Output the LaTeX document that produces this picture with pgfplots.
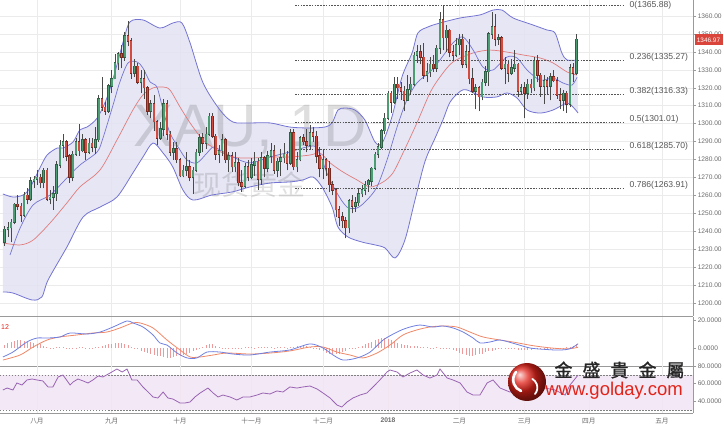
\documentclass[border=0pt]{standalone}
\usepackage{fontspec}
\setmainfont{Liberation Sans}
\newfontfamily\cjk{Noto Sans CJK SC}
\newfontfamily\cjktc[FakeBold=1.2]{Noto Sans CJK TC}
\usepackage{pgfplots}
\usepackage{pgfplotstable}
\pgfplotsset{compat=1.18}
\usepgfplotslibrary{fillbetween}
\definecolor{gridc}{HTML}{EBEBEB}
\definecolor{axc}{HTML}{9A9A9A}
\definecolor{tickc}{HTML}{6A6A6A}
\definecolor{bandfill}{HTML}{E2E2F3}
\definecolor{bandline}{HTML}{7474D2}
\definecolor{maline}{HTML}{E07C7C}
\definecolor{upc}{HTML}{4C9E72}
\definecolor{upb}{HTML}{2F5F45}
\definecolor{dnc}{HTML}{D24B3E}
\definecolor{dnb}{HTML}{7A2A20}
\definecolor{wickc}{HTML}{4A4A4A}
\definecolor{macdb}{HTML}{7080E0}
\definecolor{macdr}{HTML}{F08868}
\definecolor{histc}{HTML}{EE9A9A}
\definecolor{rsic}{HTML}{9A64B4}
\definecolor{rsifill}{HTML}{F1E4F3}
\definecolor{fibc}{HTML}{555555}
\definecolor{logored}{HTML}{E2231A}
\definecolor{pricebox}{HTML}{D9453B}

% candles: up (close > open)
\pgfplotstableread{
i o h l c
-10 1234 1243 1232 1241
-9 1241 1245 1237 1242
-8 1242 1247 1234 1245
-7 1245 1256 1244 1255
-4 1249 1262 1248 1260
-2 1258 1270 1257 1268
-1 1268 1271 1264 1269
0 1269 1274 1266 1270
2 1267 1275 1264 1274
4 1258 1263 1255 1259
5 1259 1265 1252 1261
6 1261 1279 1257 1277
7 1277 1291 1275 1288
8 1288 1294 1281 1290
11 1270 1285 1268 1283
12 1283 1292 1282 1290
14 1285 1294 1284 1291
16 1284 1292 1283 1289
18 1287 1298 1283 1291
19 1291 1316 1290 1314
22 1307 1322 1306 1321
23 1321 1330 1317 1325
24 1325 1339 1325 1334
25 1334 1340 1330 1339
27 1337 1351 1335 1349
30 1328 1336 1326 1332
32 1323 1330 1317 1325
35 1307 1313 1303 1311
38 1292 1301 1291 1297
39 1297 1314 1293 1311
42 1284 1290 1280 1286
45 1271 1277 1270 1274
46 1274 1284 1271 1276
48 1270 1276 1261 1274
49 1274 1286 1273 1284
50 1284 1294 1282 1292
52 1289 1298 1286 1294
53 1294 1306 1293 1304
56 1283 1288 1278 1285
57 1285 1294 1282 1291
59 1280 1284 1273 1282
61 1276 1284 1273 1278
64 1265 1278 1264 1276
66 1270 1281 1269 1277
67 1277 1284 1271 1279
69 1269 1284 1266 1281
71 1275 1285 1273 1282
72 1282 1289 1278 1285
74 1274 1281 1270 1279
75 1279 1286 1271 1281
76 1281 1289 1278 1283
78 1278 1297 1277 1295
80 1276 1284 1273 1280
81 1280 1293 1279 1292
84 1288 1299 1286 1295
88 1275 1286 1269 1280
96 1242 1258 1239 1257
98 1254 1259 1251 1256
99 1256 1264 1254 1261
100 1261 1266 1259 1263
101 1263 1268 1260 1266
102 1266 1269 1262 1268
103 1268 1276 1265 1275
104 1275 1284 1274 1283
105 1283 1289 1281 1287
106 1287 1297 1286 1296
107 1296 1306 1294 1303
108 1303 1318 1302 1317
110 1312 1326 1311 1322
114 1313 1327 1313 1319
115 1319 1326 1316 1322
116 1322 1340 1321 1338
117 1338 1344 1334 1340
120 1327 1334 1323 1329
121 1329 1337 1326 1333
123 1331 1344 1329 1342
124 1342 1362 1339 1358
126 1348 1355 1340 1352
129 1338 1348 1337 1344
130 1344 1350 1338 1347
132 1333 1344 1331 1340
135 1318 1322 1308 1320
137 1315 1325 1313 1323
138 1323 1332 1321 1329
139 1329 1351 1321 1350
140 1350 1362 1347 1354
142 1347 1350 1344 1348
144 1331 1337 1322 1333
146 1328 1336 1327 1331
147 1331 1341 1329 1333
149 1318 1322 1316 1320
151 1317 1325 1314 1322
153 1320 1337 1318 1335
156 1321 1327 1311 1324
158 1321 1328 1313 1326
162 1313 1319 1307 1317
164 1311 1333 1309 1331
166 1328 1350 1327 1347
}\upcandles

% candles: down (close < open)
\pgfplotstableread{
i o h l c
-6 1255 1260 1252 1254
-5 1254 1256 1245 1249
-3 1260 1264 1255 1258
1 1270 1272 1264 1267
3 1274 1275 1257 1258
9 1290 1291 1279 1282
10 1282 1283 1267 1270
13 1290 1300 1282 1285
15 1291 1292 1280 1284
17 1289 1292 1284 1287
20 1314 1326 1307 1309
21 1309 1312 1305 1307
26 1339 1344 1331 1337
28 1349 1357 1343 1346
29 1346 1348 1325 1328
31 1332 1334 1322 1323
33 1325 1330 1314 1320
34 1320 1321 1305 1307
36 1311 1316 1296 1301
37 1301 1302 1288 1292
40 1311 1313 1291 1294
41 1294 1296 1282 1284
43 1286 1290 1278 1280
44 1280 1281 1270 1271
47 1276 1280 1268 1270
51 1292 1295 1284 1289
54 1304 1306 1292 1293
55 1293 1294 1280 1283
58 1291 1292 1278 1280
60 1282 1284 1273 1276
62 1278 1281 1265 1267
63 1267 1274 1262 1265
65 1276 1280 1268 1270
68 1279 1281 1263 1269
70 1281 1282 1270 1275
73 1285 1288 1272 1274
77 1283 1285 1274 1278
79 1295 1297 1274 1276
82 1292 1294 1288 1290
83 1290 1297 1284 1288
85 1295 1298 1290 1293
86 1293 1296 1278 1282
87 1282 1287 1270 1275
89 1280 1281 1271 1275
90 1275 1279 1262 1266
91 1266 1268 1260 1263
92 1263 1264 1248 1252
93 1252 1254 1243 1248
94 1248 1251 1242 1246
95 1246 1248 1236 1242
97 1257 1260 1250 1254
109 1317 1318 1306 1312
111 1322 1326 1314 1320
112 1320 1323 1313 1318
113 1318 1321 1307 1313
118 1340 1344 1333 1337
119 1337 1345 1325 1327
122 1333 1338 1329 1331
125 1358 1366 1341 1348
127 1352 1353 1337 1340
128 1340 1344 1335 1338
131 1347 1350 1331 1333
133 1340 1347 1322 1325
134 1325 1331 1317 1318
136 1320 1321 1307 1315
141 1354 1361 1343 1347
143 1348 1349 1330 1331
145 1333 1335 1323 1328
148 1333 1334 1315 1318
150 1320 1323 1303 1317
152 1322 1325 1317 1320
154 1335 1338 1323 1327
155 1327 1328 1315 1321
157 1324 1326 1316 1321
159 1326 1330 1323 1324
160 1324 1326 1314 1316
161 1316 1320 1308 1313
163 1317 1318 1306 1311
165 1331 1334 1323 1328
}\dncandles

\pgfplotstableread{
x y
-10.5 1260.8
-7.4 1259.1
-4.3 1260.2
-2.2 1264.1
0.9 1275.3
3.1 1282.5
6.2 1286.4
8.0 1286.4
11.1 1289.8
13.2 1296.5
15.4 1298.1
18.5 1303.1
21.5 1314.3
24.0 1328.8
26.5 1345.5
28.6 1356.7
32.6 1357.8
37.8 1353.3
41.8 1356.1
44.6 1356.1
47.1 1345.0
51.1 1322.7
56.3 1307.6
60.3 1300.9
65.5 1300.4
71.7 1300.4
77.8 1298.1
83.4 1297.6
88.6 1298.1
90.8 1300.4
92.6 1307.6
94.8 1308.7
97.8 1307.6
100.9 1302.0
104.0 1289.8
106.2 1289.2
109.2 1303.7
112.3 1326.0
115.4 1339.4
117.2 1350.5
120.3 1353.9
124.0 1356.1
130.2 1358.9
136.3 1360.6
140.3 1363.3
143.1 1363.3
146.5 1358.9
152.6 1355.0
156.9 1352.2
159.4 1350.5
161.5 1339.4
163.1 1335.5
166.2 1335.5
}\upperband

\pgfplotstableread{
x y
-10.5 1206.2
-7.4 1205.6
-1.5 1201.7
1.5 1203.4
3.4 1212.8
9.2 1231.2
14.2 1248.0
19.4 1253.5
24.6 1259.1
29.5 1272.5
32.6 1281.4
35.7 1289.2
38.8 1283.6
41.8 1275.8
44.9 1263.0
48.0 1257.4
53.8 1260.2
60.0 1261.9
65.5 1264.7
71.7 1266.9
77.8 1267.5
81.8 1268.6
84.9 1270.3
87.7 1264.7
90.8 1253.5
92.6 1242.4
95.7 1236.8
100.0 1234.0
104.0 1232.4
107.1 1230.7
110.2 1225.1
113.2 1235.1
116.3 1257.4
119.4 1279.0
122.5 1292.0
124.9 1302.0
127.1 1312.0
130.2 1318.0
132.3 1318.8
137.2 1314.9
141.5 1314.9
144.6 1317.1
147.7 1314.3
150.8 1307.6
154.8 1305.9
158.8 1307.6
163.1 1311.5
164.9 1309.3
166.5 1305.9
}\lowerband

\pgfplotstableread{
x y
-8.3 1226.8
-5.2 1241.8
-1.2 1254.7
4.0 1260.2
9.2 1269.7
13.2 1276.9
18.5 1284.2
20.3 1292.0
23.4 1310.4
25.5 1323.2
28.0 1333.8
30.8 1334.4
32.6 1331.0
34.8 1323.2
36.9 1320.4
38.8 1307.6
40.9 1294.8
44.0 1285.3
46.2 1279.7
49.2 1278.1
52.3 1283.6
54.2 1287.0
56.3 1285.3
60.3 1281.4
65.5 1278.1
71.7 1281.4
77.8 1284.2
83.1 1287.0
86.2 1286.4
89.2 1272.5
92.3 1261.3
95.4 1253.5
98.5 1253.0
101.5 1257.4
104.6 1264.7
107.7 1279.7
110.8 1298.1
113.8 1313.2
116.9 1322.7
120.9 1328.8
124.0 1335.5
128.0 1345.0
131.1 1348.3
134.2 1341.0
137.2 1331.6
140.3 1329.9
144.6 1337.1
147.7 1336.6
150.8 1329.9
154.8 1324.3
158.8 1325.4
161.8 1322.7
164.6 1321.5
166.2 1326.0
}\fastma

\pgfplotstableread{
x y
-10.5 1233.5
-5.2 1232.4
-1.2 1235.1
4.0 1244.6
9.2 1255.8
13.2 1264.7
19.4 1274.2
24.6 1290.9
29.5 1307.6
32.6 1316.0
35.7 1319.9
38.8 1320.4
40.9 1318.8
44.0 1309.3
47.1 1300.4
51.1 1290.9
55.4 1285.3
60.3 1281.4
65.5 1280.8
71.7 1281.4
77.8 1281.4
84.0 1282.5
87.1 1283.6
90.2 1278.1
94.2 1273.0
98.5 1268.6
102.5 1264.7
106.5 1267.5
109.5 1272.5
112.6 1283.6
116.9 1300.4
120.9 1317.1
124.0 1326.0
128.0 1334.4
134.2 1339.4
139.4 1341.0
144.6 1339.9
149.5 1338.3
154.8 1336.6
158.8 1333.8
163.1 1328.8
166.2 1327.1
}\midband

\pgfplotstableread{
x y
-10.5 -6.4
-7.4 -2.9
-3.1 4.3
0 7.1
3.1 7.1
7.1 7.9
10.2 10.7
15.4 10.0
19.4 11.4
23.4 15.0
27.7 19.3
29.5 17.9
32.6 15.0
35.7 9.3
37.8 3.6
40.0 2.1
43.1 -3.6
46.2 -7.1
49.2 -7.1
52.3 -2.9
56.3 -2.9
60.3 -4.3
65.5 -5.0
71.7 -2.9
77.8 -1.4
84.0 2.9
88.0 0
91.1 -5.0
94.2 -8.6
98.5 -7.1
102.5 -2.9
106.5 5.7
110.8 11.4
113.8 14.3
117.8 16.4
121.8 15.0
124.9 15.7
128.0 14.3
131.1 11.4
134.2 7.1
136.3 3.6
139.4 4.3
142.5 5.7
147.1 3.0
151.7 0
156.3 -1.0
160.9 -1.5
164.0 -0.5
166.5 3.0
}\macdline

\pgfplotstableread{
x y
-10.5 -8.6
-5.2 -5.0
-1.2 0.7
3.1 5.7
7.1 7.9
12.3 9.3
17.2 10.7
21.5 11.4
25.5 14.3
29.5 17.9
31.7 17.9
35.7 14.3
40.0 5.7
44.0 -1.4
47.1 -6.4
50.2 -6.4
54.2 -5.0
58.5 -3.6
65.5 -4.3
71.7 -3.6
77.8 -2.1
84.0 0.7
88.0 0.7
92.3 -2.9
96.3 -5.0
100.3 -7.1
104.6 -3.6
108.6 2.1
112.6 9.3
116.9 12.9
120.9 15.0
124.9 15.7
129.2 15.0
133.2 11.4
137.2 7.9
142.5 5.7
147.1 4.0
151.7 2.0
156.3 0.5
160.9 -0.5
164.0 -0.5
166.5 0.5
}\signalline

\pgfplotstableread{
x y
-10 2
-9 3.5
-8 4.5
-7 5
-6 5.5
-5 5.5
-4 5
-3 4.5
-2 4
-1 3.5
0 3
1 2.5
2 1.5
3 0.5
4 0.3
5 -0.3
6 0.5
7 0.8
8 0.5
9 0.3
10 -0.3
11 -0.5
12 0.3
13 0.5
14 0.5
15 0.3
16 0.3
17 0.3
18 0.5
19 0.8
20 1.5
21 2
22 2.5
23 3
24 3.5
25 3.5
26 3.5
27 3
28 2
29 1
30 0.2
31 -1
32 -2
33 -3
34 -3.5
35 -4
36 -5
37 -5.5
38 -6
39 -6.5
40 -7
41 -7
42 -6.5
43 -6
44 -5.5
45 -5
46 -4.5
47 -3.5
48 -2.5
49 -1.5
50 -0.5
51 1
52 2
53 3
54 2.5
55 1.5
56 0.5
57 0.3
58 -0.3
59 -0.5
60 -0.5
61 -0.5
62 -0.3
63 0.3
64 0.5
65 0.8
66 0.5
67 0.3
68 0.5
69 0.8
70 1
71 0.8
72 0.5
73 0.3
74 0.5
75 0.8
76 0.5
77 0.3
78 0.8
79 1
80 1.2
81 1.5
82 1.5
83 1.2
84 0.8
85 0.3
86 -0.5
87 -1.5
88 -2.5
89 -3.5
90 -4
91 -4.5
92 -4.5
93 -4
94 -3
95 -2
96 -1
97 -0.3
98 0.3
99 1
100 1.5
101 2.5
102 3.5
103 4.5
104 5.5
105 6.5
106 7
107 7
108 6.5
109 5.5
110 4.5
111 3.5
112 2.5
113 2
114 2
115 1.5
116 1.5
117 1.2
118 1
119 0.8
120 0.5
121 0.3
122 0.3
123 0.5
124 0.3
125 0.1
126 -0.3
127 -0.5
128 -1.5
129 -2.5
130 -3.5
131 -4.5
132 -5
133 -5.5
134 -5.5
135 -5
136 -4.5
137 -4
138 -3
139 -2.5
140 -2
141 -1.5
142 -1
143 -0.5
144 -0.3
145 -0.3
146 -0.5
147 -1
148 -1.2
149 -1.5
150 -1.5
151 -1.5
152 -1.2
153 -1
154 -0.8
155 -0.5
156 -0.5
157 -0.3
158 -0.3
159 -0.2
160 0.1
161 0.2
162 0.3
163 0.5
164 1
165 1.5
166 2.5
}\histo

\pgfplotstableread{
x y
-10.5 52.9
-9.2 55.1
-7.4 52.9
-6.2 60.8
-4.6 58.5
-3.1 64.2
-1.5 65.3
0 64.2
1.8 63.1
3.4 56.3
4.9 56.3
6.5 67.6
8.0 69.8
10.2 58.5
11.1 61.9
12.6 65.3
14.2 63.1
15.7 60.8
17.2 64.2
18.8 68.7
20.3 67.6
22.5 72.1
24.6 76.6
26.2 73.2
27.7 76.6
29.2 64.2
30.8 64.2
32.6 56.3
34.2 50.6
35.7 45.0
37.2 43.8
38.8 50.6
40.3 43.8
41.8 42.7
44.0 38.2
45.5 38.2
47.1 39.3
48.6 45.0
50.2 49.5
52.6 55.1
54.2 49.5
55.7 45.0
57.2 47.2
59.4 45.0
61.5 41.6
63.4 45.0
65.5 45.0
67.7 47.2
69.5 49.5
71.7 48.4
73.8 51.8
75.7 50.6
77.8 56.3
80.0 55.1
81.8 56.3
84.0 57.4
86.2 54.0
88.0 49.5
90.2 43.8
92.3 35.9
93.8 33.7
95.4 39.3
97.2 43.8
99.4 47.2
101.5 49.5
103.4 56.3
105.5 64.2
107.7 73.2
108.6 75.5
110.8 73.2
112.6 67.6
114.8 72.1
116.9 75.5
118.8 69.8
120.9 66.4
123.1 69.8
124.0 76.6
126.2 66.4
128.0 64.2
130.2 60.8
132.3 50.6
134.2 47.2
136.3 47.2
138.5 60.8
140.3 64.2
142.5 55.1
145.5 50.6
148.6 55.1
150.8 47.2
153.2 58.5
156.3 55.1
159.4 52.9
162.5 47.2
164.0 58.5
166.5 69.8
}\rsiline

\pgfplotsset{
  chartbase/.style={
    scale only axis, width=693pt, anchor=north west,
    xmin=-11.385, xmax=201.85,
    axis x line*=bottom, axis y line*=right,
    axis line style={draw=axc, line width=0.8pt},
    xtick={0,23,44,66,88,108,130,150,169.8,192.3},
    xmajorgrids, grid style={draw=gridc, line width=0.5pt},
    xtick style={draw=none},
    ytick style={draw=axc, line width=0.5pt},
    tick align=outside, major tick length=3pt,
    yticklabel style={font=\fontsize{6.6}{7}\selectfont, text=tickc, inner sep=1.6pt},
    /pgf/number format/assume math mode=true,
    /pgf/number format/.cd, fixed, fixed zerofill, 1000 sep={},
  },
  candle/.style={only marks, mark=*, mark size=0pt, mark options={draw=none, fill=none},
    error bars/.cd, y dir=plus, y explicit, error mark=none},
}

\begin{document}
\begin{tikzpicture}[x=1pt,y=1pt]

% ---------------- price panel ----------------
\begin{axis}[chartbase, at={(0pt,0pt)}, height=316pt,
  ymin=1192.78, ymax=1368.92,
  ytick={1200,1210,...,1360}, ymajorgrids, xticklabels={},
  yticklabel style={/pgf/number format/precision=2},
]
\addplot[draw=none, name path=U, smooth] table {\upperband};
\addplot[draw=none, name path=L, smooth] table {\lowerband};
\addplot[bandfill, fill opacity=0.85] fill between[of=U and L];
\node[text=black, text opacity=0.13, font=\fontsize{60}{60}\selectfont] at (axis cs:65.5,1296.5) {XAU, 1D};
\node[text=black, text opacity=0.12, font=\cjk\fontsize{28}{28}\selectfont] at (axis cs:65.5,1265.8) {现货黄金};
\addplot[bandline, line width=0.8pt, smooth] table {\upperband};
\addplot[bandline, line width=0.8pt, smooth] table {\lowerband};
\addplot[maline, line width=0.7pt, smooth] table {\midband};
\addplot[bandline, line width=0.7pt, smooth] table {\fastma};
% fibonacci levels
\foreach \lv/\lab/\ys in {1365.88/0(1365.88)/0.3pt, 1335.27/0.236(1335.27)/3pt, 1316.33/0.382(1316.33)/3pt, 1301.01/0.5(1301.01)/3pt, 1285.70/0.618(1285.70)/3pt, 1263.91/0.786(1263.91)/3pt}{
  \edef\temp{\noexpand\addplot[fibc, line width=0.5pt, dash pattern=on 1.6pt off 1.2pt] coordinates {(79.4,\lv) (180.9,\lv)};}\temp
  \edef\temp{\noexpand\node[anchor=west, text=fibc, font=\noexpand\fontsize{8.6}{9}\noexpand\selectfont, inner sep=1pt, yshift=\ys] at (axis cs:182.0,\lv) {\lab};}\temp
}
% wicks
\addplot[candle, error bar style={line width=0.5pt, draw=wickc}]
  table[x=i, y=l, y error expr=\thisrow{h}-\thisrow{l}] {\upcandles};
\addplot[candle, error bar style={line width=0.5pt, draw=wickc}]
  table[x=i, y=l, y error expr=\thisrow{h}-\thisrow{l}] {\dncandles};
% bodies
\addplot[candle, error bar style={line width=2.5pt, draw=upb}]
  table[x=i, y expr=\thisrow{o}-0.35, y error expr=\thisrow{c}-\thisrow{o}+0.7] {\upcandles};
\addplot[candle, error bar style={line width=1.6pt, draw=upc}]
  table[x=i, y=o, y error expr=\thisrow{c}-\thisrow{o}] {\upcandles};
\addplot[candle, error bar style={line width=2.5pt, draw=dnb}]
  table[x=i, y expr=\thisrow{c}-0.35, y error expr=\thisrow{o}-\thisrow{c}+0.7] {\dncandles};
\addplot[candle, error bar style={line width=1.6pt, draw=dnc}]
  table[x=i, y=c, y error expr=\thisrow{o}-\thisrow{c}] {\dncandles};
\end{axis}

% ---------------- MACD panel ----------------
\begin{axis}[chartbase, at={(0pt,-317pt)}, height=49pt,
  ymin=-12.86, ymax=22.14, ytick={0,20}, xticklabels={},
  yticklabel style={/pgf/number format/precision=4},
]
\addplot[ycomb, histc, line width=0.6pt, mark=none] table {\histo};
\addplot[macdr, line width=0.8pt, smooth] table {\signalline};
\addplot[macdb, line width=0.8pt, smooth] table {\macdline};
\node[anchor=west, text=logored, font=\fontsize{7}{7}\selectfont, inner sep=1pt] at (rel axis cs:0,0.8) {12};
\end{axis}

% ---------------- RSI panel ----------------
\begin{axis}[chartbase, at={(0pt,-366pt)}, height=47pt,
  ymin=26.89, ymax=80, ytick={40,60,80},
  yticklabel style={/pgf/number format/precision=4},
  xticklabels={八月,九月,十月,十一月,十二月,{\rmfamily\bfseries 2018},二月,三月,四月,五月},
  xticklabel style={font=\cjk\fontsize{6.7}{7}\selectfont, text=tickc, inner sep=2pt},
]
\addplot[fill=rsifill, draw=none, fill opacity=0.85] coordinates {(-11.385,30) (-11.385,70) (201.85,70) (201.85,30)} -- cycle;
\addplot[gray, line width=0.4pt, dash pattern=on 1.5pt off 1.5pt] coordinates {(-11.385,70) (201.85,70)};
\addplot[gray, line width=0.4pt, dash pattern=on 1.5pt off 1.5pt] coordinates {(-11.385,30) (201.85,30)};
\addplot[rsic, line width=0.8pt] table {\rsiline};
\end{axis}

% price tag
\node[fill=pricebox, text=white, font=\fontsize{6.4}{7}\selectfont, inner sep=0pt, minimum width=28pt, minimum height=11pt] at (708.5,-40) {1346.97};

% logo
\shade[ball color=logored] (527,-382) circle (19);
\draw[white, line width=2.6pt, line cap=round] (516,-372) arc[start angle=140, end angle=250, radius=12];
\draw[white, line width=1.8pt, line cap=round] (535,-394) arc[start angle=-40, end angle=60, radius=10];
\node[font=\cjktc\fontsize{18}{18}\selectfont, text=black!85] at (619.5,-370) {金\hspace{10pt}盛\hspace{10pt}貴\hspace{10pt}金\hspace{10pt}屬};
\node[font=\fontsize{18.5}{19}\selectfont, text=logored] at (614,-391) {www.golday.com};

\pgfresetboundingbox
\path[use as bounding box] (0,0) rectangle (724,-430);
\end{tikzpicture}
\end{document}
